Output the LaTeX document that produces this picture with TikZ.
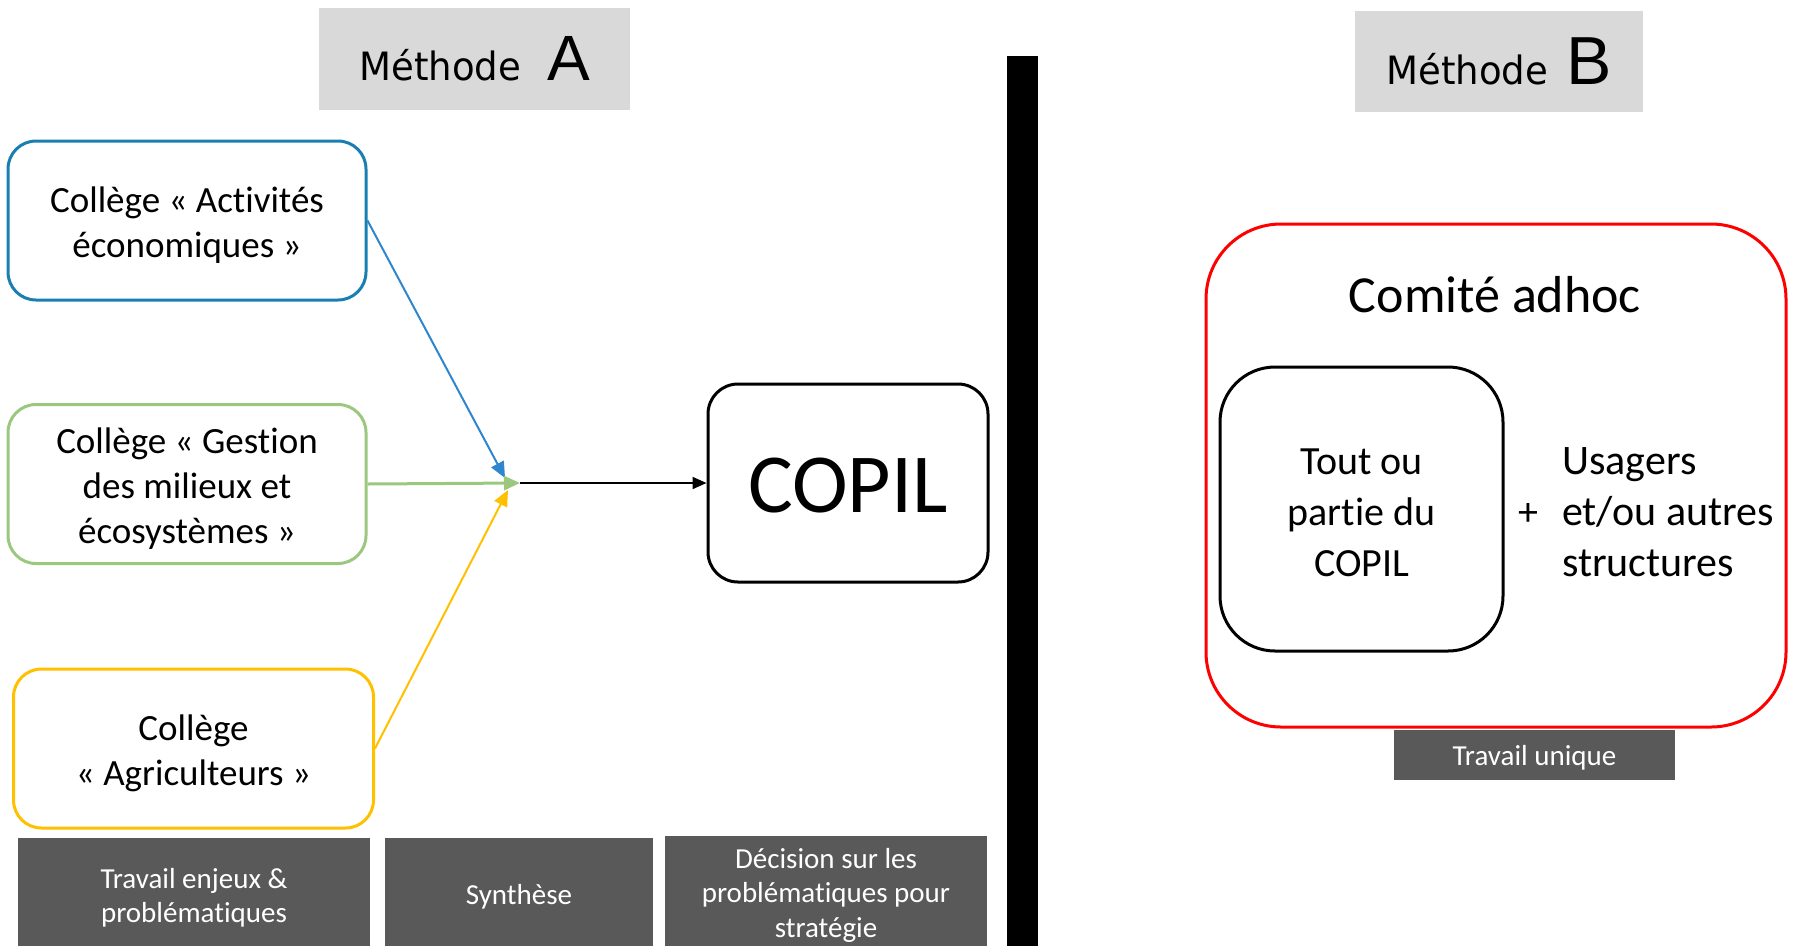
\documentclass[tikz,border=0pt]{standalone}
\usepackage{fontspec}
\setmainfont{Carlito}[Ligatures={NoCommon}]
\newfontfamily\methfont[FakeStretch=0.95]{DejaVu Sans}
\newfontfamily\letterfont{Liberation Sans}
\usetikzlibrary{arrows.meta}
\definecolor{blueC}{HTML}{1A7FB0}
\definecolor{blueA}{HTML}{2E86CF}
\definecolor{greenC}{HTML}{9BC87E}
\definecolor{yellowC}{HTML}{FFC000}
\definecolor{darkG}{HTML}{595959}
\definecolor{lightG}{HTML}{D9D9D9}
\definecolor{redC}{HTML}{FF0000}
\begin{document}
\begin{tikzpicture}[x=1pt,y=-1pt,
  collbox/.style={draw, line width=3pt, rounded corners=28pt,
    inner sep=0pt, minimum width=358pt, minimum height=159pt},
  colltext/.style={align=center, inner sep=0pt, font=\fontsize{37}{45}\selectfont},
  taskbox/.style={fill=darkG, inner sep=0pt},
  tasktext/.style={text=white, align=center, inner sep=0pt,
    font=\fontsize{29}{34.5}\selectfont},
  titlebox/.style={fill=lightG, inner sep=0pt, minimum height=102pt},
  link/.style={line width=2pt, -{Triangle[length=16pt,width=14pt]}}
]
\useasboundingbox (0,0) rectangle (1793,946);

% ---- Method A ----
\node[titlebox, minimum width=311pt] (titleA) at (474.5,59)
  {\methfont\fontsize{39}{42}\selectfont Méthode\hspace{26pt}{\letterfont\fontsize{64}{64}\selectfont A}};

\node[collbox, draw=blueC] (act) at (187,220.5) {};
\node[colltext] (actT) at ([yshift=-5pt]act.center) {Collège « Activités\\économiques »};
\node[collbox, draw=greenC] (ges) at (187,484) {};
\node[colltext] (gesT) at ([yshift=-5pt]ges.center) {Collège « Gestion\\des milieux et\\écosystèmes »};
\node[collbox, draw=yellowC, minimum width=360pt] (agr) at (193.5,748.5) {};
\node[colltext] (agrT) at ([yshift=-5pt]agr.center) {Collège\\« Agriculteurs »};

\node[draw, line width=3pt, rounded corners=30pt, inner sep=0pt,
  minimum width=280pt, minimum height=198pt] (copil) at (848,483) {};
\node[inner sep=0pt, font=\fontsize{84}{90}\selectfont] (copilT)
  at ([yshift=-3pt]copil.center) {COPIL};

\coordinate (hub) at (520,483);
\coordinate (tipB) at (505,478);
\coordinate (tipY) at (508,490);

\draw[link, blueA] (act.east) -- (tipB);
\draw[link, greenC, line width=3pt] (ges.east) -- (hub);
\draw[link, yellowC] (agr.east) -- (tipY);
\draw[line width=2pt, -{Triangle[length=14pt,width=12pt]}] (hub) -- (copil.west);

\node[taskbox, minimum width=352pt, minimum height=108pt] (t1) at (194,892) {};
\node[tasktext] at ([yshift=-6pt]t1.center) {Travail enjeux \&\\problématiques};
\node[taskbox, minimum width=268pt, minimum height=108pt] (t2) at (519,892) {};
\node[tasktext] at ([yshift=-5pt]t2.center) {Synthèse};
\node[taskbox, minimum width=322pt, minimum height=110pt] (t3) at (826,891) {};
\node[tasktext] at ([yshift=-4pt]t3.center) {Décision sur les\\problématiques pour\\stratégie};

% ---- separator ----
\fill[black] (1007,56) rectangle (1038,946);

% ---- Method B ----
\node[titlebox, minimum width=288pt, minimum height=101pt] (titleB) at (1499,61.5)
  {\methfont\fontsize{39}{42}\selectfont Méthode\hspace{18pt}{\letterfont\fontsize{68}{68}\selectfont B}};

\node[draw=redC, line width=3pt, rounded corners=75pt, inner sep=0pt,
  minimum width=580pt, minimum height=503pt] (adhoc) at (1496,475.5) {};
\node[font=\fontsize{52}{60}\selectfont, anchor=base] (adhocT) at (1495,312) {Comité adhoc};

\node[draw, line width=3pt, rounded corners=55pt, inner sep=0pt,
  minimum width=283pt, minimum height=284pt] (part) at (1361.5,509) {};
\node[align=center, inner sep=0pt, font=\fontsize{40}{51}\selectfont] (partT)
  at ([yshift=-4pt]part.center) {Tout ou\\partie du\\COPIL};

\node[font=\fontsize{40}{50}\selectfont, anchor=base] (plus) at (1528,525) {+};
\node[font=\fontsize{42}{51}\selectfont, align=left, anchor=base west,
  inner sep=0pt] (others) at (1562,576)
  {Usagers\\et/ou autres\\structures};

\node[taskbox, minimum width=281pt, minimum height=50pt] (t4) at (1534.5,755) {};
\node[tasktext] at ([yshift=-3pt]t4.center) {Travail unique};
\end{tikzpicture}
\end{document}
